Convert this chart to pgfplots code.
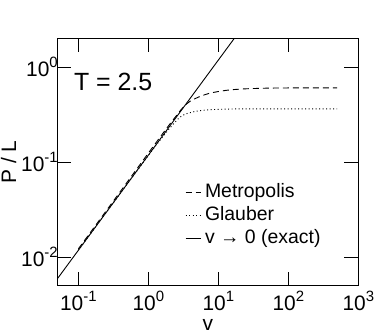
\documentclass[border=0pt]{standalone}
\usepackage{fontspec}
\setmainfont{Liberation Sans}
\usepackage{pgfplots}
\pgfplotsset{compat=1.18}

\pgfplotstableread{
v y
0.1 0.0122
0.3 0.0368
0.6 0.074
1.0 0.124
1.5 0.186
2.0 0.247
2.5 0.305
2.84 0.345
3.3 0.39
3.95 0.435
5.5 0.49
7.9 0.533
13.2 0.568
22.9 0.587
50 0.598
100 0.601
500 0.602
}\metro

\pgfplotstableread{
v y
0.1 0.0118
0.3 0.0354
0.6 0.0705
1.0 0.117
1.5 0.173
2.0 0.225
2.4 0.262
2.84 0.297
3.3 0.317
4.4 0.337
5.5 0.347
7.9 0.355
13 0.360
23 0.362
100 0.362
500 0.362
}\glauber

\newcommand{\ex}[1]{\raisebox{0.42em}{\fontsize{15}{16}\selectfont #1}}
\newcommand{\legfont}{\fontsize{19.5}{22}\selectfont}

\begin{document}
\begin{tikzpicture}
\begin{axis}[
  at={(57.3bp,49.3bp)}, anchor=south west,
  scale only axis, width=301bp, height=247.4bp,
  xmode=log, ymode=log,
  xmin=0.05, xmax=1000, ymin=0.005, ymax=2,
  xtick={0.1,1,10,100,1000},
  xticklabels={10\ex{-1},10\ex{0},10\ex{1},10\ex{2},10\ex{3}},
  ytick={0.01,0.1,1},
  yticklabels={10\ex{-2},10\ex{-1},10\ex{0}},
  xminorticks=false, yminorticks=false,
  tick align=inside, major tick length=14bp,
  tick style={black, line width=0.8bp},
  axis line style={line width=0.8bp},
  every tick label/.append style={font=\fontsize{21}{24}\selectfont},
  yticklabel style={xshift=4bp},
  xticklabel style={yshift=-2bp},
  xlabel={v}, ylabel={P / L},
  label style={font=\fontsize{21}{24}\selectfont},
  xlabel style={at={(axis description cs:0.5,-0.183)}, anchor=base},
  ylabel style={at={(axis description cs:-0.162,0.5)}, anchor=center},
  legend style={at={(axis description cs:0.424,0.42)}, anchor=north west,
    draw=none, fill=none, inner sep=0pt, row sep=2bp, column sep=3bp,
    nodes={inner sep=1bp, text height=14.5bp, text depth=4.5bp}},
  legend cell align=left,
  legend image code/.code={\draw[#1] (0bp,0bp) -- (15bp,0bp);},
]
\addplot[black, line width=0.9bp, dash pattern=on 6bp off 4bp, smooth] table[x=v, y=y] {\metro};
\addlegendentry{\legfont Metropolis}
\addplot[black, line width=0.9bp, dash pattern=on 1bp off 2.5bp, smooth] table[x=v, y=y] {\glauber};
\addlegendentry{\legfont Glauber}
\addplot[black, line width=0.9bp] coordinates {(0.04,0.00472) (20,2.36)};
\addlegendentry{\legfont v → 0 (exact)}
\node[anchor=base west, inner sep=0pt, font=\fontsize{25}{28}\selectfont]
  at (axis description cs:0.055,0.787) {T = 2.5};
\end{axis}
\pgfresetboundingbox
\path (0,0) rectangle (374bp,335bp);
\end{tikzpicture}
\end{document}
